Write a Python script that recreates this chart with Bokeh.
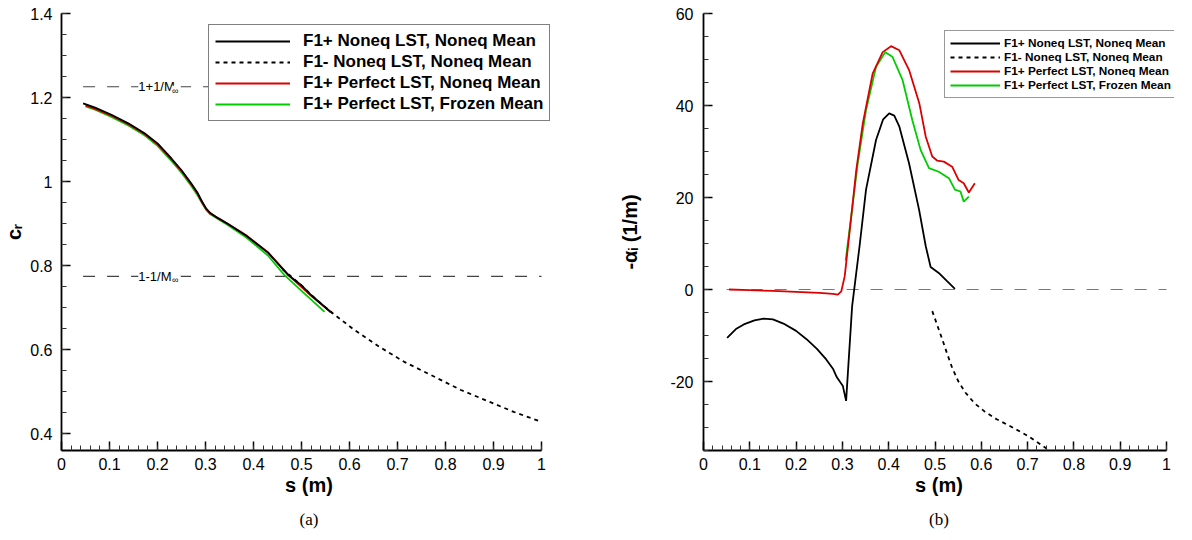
from bokeh.plotting import figure
from bokeh.layouts import row
from bokeh.models import (Range1d, SingleIntervalTicker, CustomJSTickFormatter,
                          Legend, LegendItem, Label, Title)
from bokeh.embed import file_html
from bokeh.resources import INLINE

FONT = "Liberation Sans"
SERIF = "Liberation Serif"

# ---------------- data: panel (a) phase speed c_r ----------------
M_inf = 4.43
ref_s = [0.045, 1.0]

a_f1p_noneq_s = [0.045, 0.07, 0.104, 0.14, 0.173, 0.20, 0.229, 0.25, 0.270, 0.283, 0.293,
                 0.302, 0.310, 0.326, 0.347, 0.385, 0.43, 0.471, 0.499, 0.52, 0.561]
a_f1p_noneq_c = [1.186, 1.176, 1.159, 1.138, 1.115, 1.091, 1.055, 1.027, 0.996, 0.974, 0.952,
                 0.935, 0.925, 0.913, 0.899, 0.871, 0.831, 0.779, 0.754, 0.730, 0.689]

a_f1m_noneq_s = [0.46, 0.50, 0.53, 0.565, 0.61, 0.662, 0.714, 0.769, 0.832, 0.887, 0.942, 1.0]
a_f1m_noneq_c = [0.792, 0.753, 0.720, 0.6865, 0.647, 0.607, 0.571, 0.540, 0.504, 0.478, 0.452, 0.428]

a_perf_noneq_s = [0.05, 0.07, 0.104, 0.14, 0.173, 0.20, 0.229, 0.25, 0.270, 0.283, 0.293,
                  0.302, 0.310, 0.326, 0.347, 0.385, 0.43, 0.475, 0.52, 0.565]
a_perf_noneq_c = [1.181, 1.173, 1.157, 1.136, 1.113, 1.089, 1.053, 1.025, 0.994, 0.972, 0.950,
                  0.933, 0.924, 0.913, 0.899, 0.872, 0.832, 0.775, 0.728, 0.686]

a_perf_frozen_s = [0.05, 0.07, 0.104, 0.14, 0.173, 0.20, 0.229, 0.25, 0.270, 0.283, 0.293,
                   0.302, 0.310, 0.326, 0.347, 0.385, 0.43, 0.464, 0.50, 0.548]
a_perf_frozen_c = [1.179, 1.171, 1.154, 1.133, 1.110, 1.085, 1.049, 1.021, 0.990, 0.968, 0.948,
                   0.932, 0.922, 0.911, 0.896, 0.867, 0.824, 0.778, 0.740, 0.690]

# ---------------- data: panel (b) growth rate -alpha_i ----------------
zero_s = [0.05, 1.0]
zero_a = [0.0, 0.0]

b_f1p_noneq_s = [0.051, 0.07, 0.087, 0.11, 0.13, 0.15, 0.1726, 0.2, 0.2225, 0.245, 0.265, 0.28,
                 0.288, 0.301, 0.308, 0.321, 0.337, 0.351, 0.3726, 0.388, 0.401, 0.412, 0.423,
                 0.444, 0.4656, 0.48, 0.4905, 0.508, 0.526, 0.543]
b_f1p_noneq_a = [-10.5, -8.6, -7.6, -6.7, -6.35, -6.5, -7.4, -9.0, -10.8, -12.9, -15.2, -17.3,
                 -19.1, -21.0, -24.2, -3.6, 9.4, 21.7, 32.5, 37.0, 38.3, 37.8, 35.4,
                 27.4, 17.3, 9.4, 4.9, 3.6, 1.8, 0.15]

b_f1m_noneq_s = [0.494, 0.505, 0.5155, 0.527, 0.537, 0.55, 0.5655, 0.585, 0.608, 0.633,
                 0.6585, 0.70, 0.75]
b_f1m_noneq_a = [-4.7, -7.8, -10.8, -14.2, -17.0, -19.9, -22.4, -24.7, -26.6, -28.2,
                 -29.5, -31.8, -35.2]

b_perf_noneq_s = [0.055, 0.1, 0.15, 0.2, 0.25, 0.28, 0.290, 0.2976, 0.305, 0.316, 0.330, 0.344,
                  0.3655, 0.387, 0.405, 0.423, 0.444, 0.466, 0.48, 0.494, 0.505, 0.519, 0.537,
                  0.551, 0.562, 0.573, 0.586]
b_perf_noneq_a = [0.0, -0.15, -0.3, -0.5, -0.75, -0.95, -1.1, -0.4, 2.9, 13.0, 26.0, 36.1,
                  47.0, 51.6, 52.9, 52.0, 47.7, 40.5, 33.2, 28.9, 28.0, 27.8, 26.7,
                  23.8, 23.1, 21.1, 23.1]

b_perf_frozen_s = [0.307, 0.319, 0.333, 0.351, 0.3726, 0.3927, 0.408, 0.43, 0.451, 0.469, 0.487,
                   0.508, 0.53, 0.543, 0.555, 0.562, 0.573]
b_perf_frozen_a = [6.3, 15.9, 27.4, 39.0, 48.4, 51.6, 50.6, 45.5, 36.8, 30.3, 26.4,
                   25.6, 24.2, 21.7, 21.3, 19.1, 20.2]

legend_labels = ["F1+ Noneq LST, Noneq Mean", "F1- Noneq LST, Noneq Mean",
                 "F1+ Perfect LST, Noneq Mean", "F1+ Perfect LST, Frozen Mean"]

RED = "#dd0000"
GREEN = "#00cc00"
LW = 1.8

fmt = CustomJSTickFormatter(code="""
    if (Math.abs(tick - Math.round(tick)) < 1e-9) { return Math.round(tick).toString(); }
    return tick.toFixed(1);
""")


def style(p, y_interval, y_minor):
    p.outline_line_color = None
    p.xgrid.visible = False
    p.ygrid.visible = False
    p.xaxis[0].ticker = SingleIntervalTicker(interval=0.1, num_minor_ticks=5)
    p.yaxis[0].ticker = SingleIntervalTicker(interval=y_interval, num_minor_ticks=y_minor)
    p.xaxis[0].bounds = (0, 1)
    for ax in (p.xaxis[0], p.yaxis[0]):
        ax.formatter = fmt
        ax.axis_line_width = 1.8
        ax.axis_line_color = "black"
        ax.major_tick_in = 9
        ax.major_tick_out = 0
        ax.minor_tick_in = 5
        ax.minor_tick_out = 0
        ax.major_tick_line_width = 1.5
        ax.major_tick_line_color = "black"
        ax.minor_tick_line_width = 1
        ax.minor_tick_line_color = "#333333"
        ax.major_label_text_font = FONT
        ax.major_label_text_font_size = "16px"
        ax.major_label_text_color = "black"
        ax.axis_label_text_font = FONT
        ax.axis_label_text_font_style = "bold"
        ax.axis_label_text_font_size = "20px"
        ax.axis_label_text_color = "black"
    p.xaxis[0].major_label_standoff = 7
    p.xaxis[0].axis_label = "s (m)"
    p.xaxis[0].axis_label_standoff = 1


def caption(p, txt):
    p.add_layout(Title(text=txt, align="center", text_font=SERIF, text_font_size="17px",
                       text_font_style="normal", text_color="black", standoff=18), "below")


# ======================= panel (a) =======================
p1 = figure(width=616, height=538, x_range=Range1d(0, 496 / 481.0),
            y_range=Range1d(0.36, 1.4 + 1e-6),
            output_backend="svg", toolbar_location=None,
            min_border_left=60, min_border_right=60, min_border_top=13, min_border_bottom=88)
style(p1, 0.2, 4)
p1.yaxis[0].major_label_standoff = 9
p1.yaxis[0].axis_label = "c\u1d63"
p1.yaxis[0].axis_label_standoff = 2

ref_lines = [(1 + 1 / M_inf, "1+1/M"), (1 - 1 / M_inf, "1-1/M")]
for yv, txt in ref_lines:
    p1.line(ref_s, [yv, yv], line_color="#444444", line_width=1.2, line_dash="12 12")
    p1.add_layout(Label(x=0.160, y=yv, text=" " + txt, text_font=FONT,
                        text_font_size="13px", text_baseline="middle", text_align="left",
                        background_fill_color="white", text_color="black"))
    p1.add_layout(Label(x=0.230, y=yv - 0.0095, text="\u221e ", text_font=FONT,
                        text_font_size="9px", text_baseline="middle", text_align="left",
                        background_fill_color="white", text_color="black"))

ga = p1.line(a_perf_frozen_s, a_perf_frozen_c, line_color=GREEN, line_width=LW)
ra = p1.line(a_perf_noneq_s, a_perf_noneq_c, line_color=RED, line_width=LW)
ka = p1.line(a_f1p_noneq_s, a_f1p_noneq_c, line_color="black", line_width=LW)
da = p1.line(a_f1m_noneq_s, a_f1m_noneq_c, line_color="black", line_width=LW, line_dash="4 4")

leg1 = Legend(items=[LegendItem(label=legend_labels[0], renderers=[ka]),
                     LegendItem(label=legend_labels[1], renderers=[da]),
                     LegendItem(label=legend_labels[2], renderers=[ra]),
                     LegendItem(label=legend_labels[3], renderers=[ga])],
              location=(147, 329), glyph_width=75, glyph_height=20, label_height=20,
              label_standoff=13, spacing=1, padding=6, margin=0,
              border_line_color="black", border_line_width=1,
              background_fill_color="white", background_fill_alpha=1.0,
              label_text_font=FONT, label_text_font_style="bold",
              label_text_font_size="17px", label_text_color="black")
p1.add_layout(leg1)
caption(p1, "(a)")

# ======================= panel (b) =======================
p2 = figure(width=576, height=538, x_range=Range1d(0, 474 / 466.0), y_range=Range1d(-35, 60),
            output_backend="svg", toolbar_location=None,
            min_border_left=84, min_border_right=18, min_border_top=13, min_border_bottom=86)
style(p2, 20, 4)
p2.yaxis[0].major_label_standoff = 10
p2.yaxis[0].axis_label = "-\u03b1\u1d62 (1/m)"
p2.yaxis[0].axis_label_standoff = 26

p2.line(zero_s, zero_a, line_color="#777777", line_width=1.2, line_dash="12 12")
db = p2.line(b_f1m_noneq_s, b_f1m_noneq_a, line_color="black", line_width=LW, line_dash="4 4")
kb = p2.line(b_f1p_noneq_s, b_f1p_noneq_a, line_color="black", line_width=LW)
gb = p2.line(b_perf_frozen_s, b_perf_frozen_a, line_color=GREEN, line_width=LW)
rb = p2.line(b_perf_noneq_s, b_perf_noneq_a, line_color=RED, line_width=LW)

leg2 = Legend(items=[LegendItem(label=legend_labels[0], renderers=[kb]),
                     LegendItem(label=legend_labels[1], renderers=[db]),
                     LegendItem(label=legend_labels[2], renderers=[rb]),
                     LegendItem(label=legend_labels[3], renderers=[gb])],
              location=(241, 352), glyph_width=50, glyph_height=14, label_height=14,
              label_standoff=4, spacing=0, padding=5, margin=0,
              border_line_color="#333333", border_line_width=1,
              background_fill_color="white", background_fill_alpha=1.0,
              label_text_font=FONT, label_text_font_style="bold",
              label_text_font_size="11.8px", label_text_color="black")
p2.add_layout(leg2)
caption(p2, "(b)")

layout = row(p1, p2)
open("out.html", "w").write(file_html(layout, INLINE))
